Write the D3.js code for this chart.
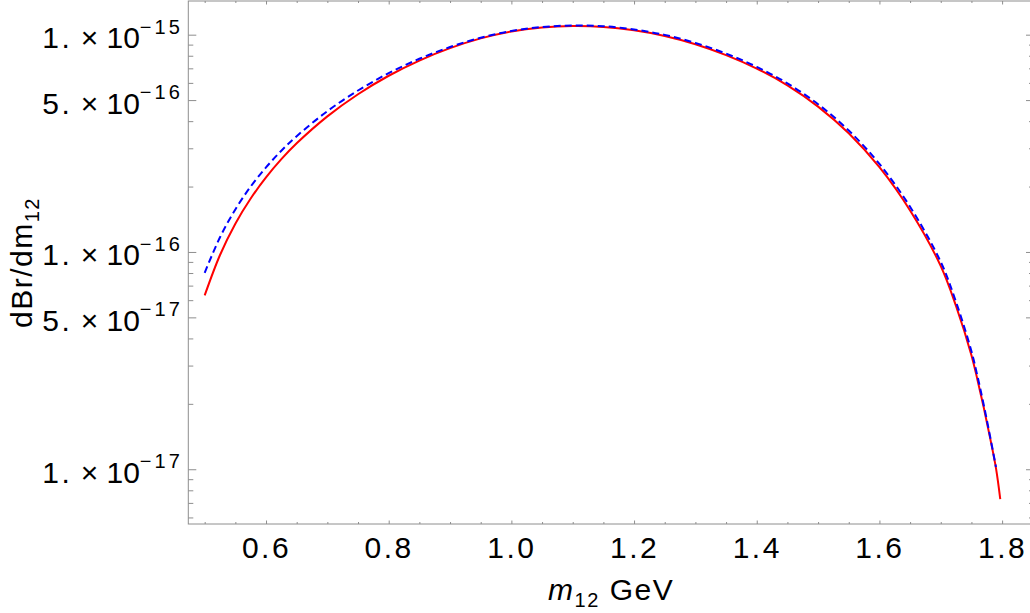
<!DOCTYPE html>
<html>
<head>
<meta charset="utf-8">
<script src="https://cdn.jsdelivr.net/npm/d3@7"></script>
<style>
  html, body { margin: 0; padding: 0; background: #fff; }
  svg { display: block; }
  text { font-family: "Liberation Sans", Arial, sans-serif; fill: #000; }
</style>
</head>
<body>
<svg id="chart" width="1030" height="613"></svg>
<script>
// ---- data ----
const m12 = [0.5, 0.525, 0.55, 0.575, 0.6, 0.625, 0.65, 0.7, 0.75, 0.8, 0.85, 0.9, 0.95, 1.0, 1.05, 1.1, 1.15, 1.2, 1.25, 1.3, 1.35, 1.4, 1.45, 1.5, 1.55, 1.6, 1.65, 1.7, 1.725, 1.75, 1.76, 1.77, 1.78, 1.79, 1.797];
const redSolid = [6.310e-17, 9.683e-17, 1.349e-16, 1.762e-16, 2.203e-16, 2.673e-16, 3.162e-16, 4.207e-16, 5.321e-16, 6.471e-16, 7.603e-16, 8.670e-16, 9.616e-16, 1.035e-15, 1.079e-15, 1.096e-15, 1.086e-15, 1.047e-15, 9.863e-16, 9.036e-16, 8.054e-16, 6.982e-16, 5.848e-16, 4.667e-16, 3.516e-16, 2.455e-16, 1.552e-16, 8.610e-17, 5.623e-17, 3.350e-17, 2.570e-17, 1.928e-17, 1.413e-17, 1.012e-17, 7.295e-18];
const m12Blue = [0.5, 0.525, 0.55, 0.575, 0.6, 0.625, 0.65, 0.7, 0.75, 0.8, 0.85, 0.9, 0.95, 1.0, 1.05, 1.1, 1.15, 1.2, 1.25, 1.3, 1.35, 1.4, 1.45, 1.5, 1.55, 1.6, 1.65, 1.7, 1.725, 1.75, 1.76, 1.77, 1.78, 1.79];
const blueDashed = [8.017e-17, 1.169e-16, 1.570e-16, 2.000e-16, 2.449e-16, 2.924e-16, 3.412e-16, 4.446e-16, 5.534e-16, 6.653e-16, 7.745e-16, 8.770e-16, 9.683e-16, 1.040e-15, 1.084e-15, 1.102e-15, 1.094e-15, 1.057e-15, 9.977e-16, 9.162e-16, 8.185e-16, 7.112e-16, 5.970e-16, 4.786e-16, 3.622e-16, 2.541e-16, 1.614e-16, 8.995e-17, 5.875e-17, 3.491e-17, 2.667e-17, 1.982e-17, 1.436e-17, 1.023e-17];
const xTicks = [0.6, 0.8, 1.0, 1.2, 1.4, 1.6, 1.8];
const xTickLabels = ["0.6", "0.8", "1.0", "1.2", "1.4", "1.6", "1.8"];
const xMinorTicks = [0.5, 0.55, 0.65, 0.7, 0.75, 0.85, 0.9, 0.95, 1.05, 1.1, 1.15, 1.25, 1.3, 1.35, 1.45, 1.5, 1.55, 1.65, 1.7, 1.75];
const yTicks = [1e-17, 5e-17, 1e-16, 5e-16, 1e-15];
const yTickMantissa = ["1.", "5.", "1.", "5.", "1."];
const yTickExponent = ["\u221217", "\u221217", "\u221216", "\u221216", "\u221215"];
const yMinorTicks = [6e-18, 7e-18, 8e-18, 9e-18, 2e-17, 3e-17, 4e-17, 6e-17, 7e-17, 8e-17, 9e-17, 2e-16, 3e-16, 4e-16, 6e-16, 7e-16, 8e-16, 9e-16];

// ---- layout ----
const L = 188.3, R = 1034, T = 1, B = 524;
const svg = d3.select("#chart");
svg.append("rect").attr("width", 1030).attr("height", 613).attr("fill", "#fff");

const x = d3.scaleLinear().domain([0.4733, 1.852]).range([L, R]);
const y = d3.scaleLog().domain([Math.pow(10, -17.252), Math.pow(10, -14.845)]).range([B, T]);

const frameColor = "#8e8e8e";

// curves
const line = d3.line().x(d => x(d[0])).y(d => y(d[1])).curve(d3.curveCatmullRom.alpha(0.5));
const plot = svg.append("g");
plot.append("path")
  .datum(m12.map((v, i) => [v, redSolid[i]]))
  .attr("d", line).attr("fill", "none").attr("stroke", "#ff0000").attr("stroke-width", 2);
plot.append("path")
  .datum(m12Blue.map((v, i) => [v, blueDashed[i]]))
  .attr("d", line).attr("fill", "none").attr("stroke", "#0000ff").attr("stroke-width", 2)
  .attr("stroke-dasharray", "7,4");

// frame
svg.append("rect").attr("x", L).attr("y", T).attr("width", R - L).attr("height", B - T)
  .attr("fill", "none").attr("stroke", frameColor).attr("stroke-width", 1);

function styleAxis(g) {
  g.select(".domain").remove();
  g.selectAll(".tick line").attr("stroke", frameColor);
}

// bottom axis (major with labels)
const bottom = svg.append("g").attr("transform", `translate(0,${B})`)
  .call(d3.axisBottom(x).tickValues(xTicks).tickSize(-3.5).tickPadding(13)
    .tickFormat((d, i) => xTickLabels[i]));
styleAxis(bottom);
bottom.selectAll("text").attr("font-size", 30).attr("letter-spacing", 2.5)
  .attr("font-family", "Liberation Sans, Arial, sans-serif").attr("fill", "#000");
svg.append("g").attr("transform", `translate(0,${B})`)
  .call(d3.axisBottom(x).tickValues(xMinorTicks).tickSize(-2).tickFormat(""))
  .call(styleAxis);
// top mirror
svg.append("g").attr("transform", `translate(0,${T})`)
  .call(d3.axisTop(x).tickValues(xTicks).tickSize(-3.5).tickFormat(""))
  .call(styleAxis);
svg.append("g").attr("transform", `translate(0,${T})`)
  .call(d3.axisTop(x).tickValues(xMinorTicks).tickSize(-2).tickFormat(""))
  .call(styleAxis);

// left axis
const left = svg.append("g").attr("transform", `translate(${L},0)`)
  .call(d3.axisLeft(y).tickValues(yTicks).tickSize(-8).tickPadding(5).tickFormat(""));
styleAxis(left);
left.selectAll(".tick text").each(function(d, i) {
  const t = d3.select(this);
  t.text(null).attr("x", -5.5).attr("dy", null).attr("y", 13)
    .attr("font-size", 30).attr("text-anchor", "end").attr("fill", "#000")
    .attr("font-family", "Liberation Sans, Arial, sans-serif");
  t.append("tspan").text(yTickMantissa[i]).attr("letter-spacing", 2.5);
  t.append("tspan").text(" \u00d7 10");
  t.append("tspan").text(yTickExponent[i]).attr("font-size", 20).attr("dy", -14.5).attr("letter-spacing", 3);
});
svg.append("g").attr("transform", `translate(${L},0)`)
  .call(d3.axisLeft(y).tickValues(yMinorTicks).tickSize(-5).tickFormat(""))
  .call(styleAxis);
// right mirror
svg.append("g").attr("transform", `translate(${R},0)`)
  .call(d3.axisRight(y).tickValues(yTicks).tickSize(-8).tickFormat(""))
  .call(styleAxis);
svg.append("g").attr("transform", `translate(${R},0)`)
  .call(d3.axisRight(y).tickValues(yMinorTicks).tickSize(-5).tickFormat(""))
  .call(styleAxis);

// axis titles
const xt = svg.append("text").attr("x", (L + R) / 2).attr("y", 600)
  .attr("text-anchor", "middle").attr("font-size", 30).attr("letter-spacing", 1.5);
xt.append("tspan").text("m").attr("font-style", "italic");
xt.append("tspan").text("12").attr("font-size", 20).attr("dy", 7);
xt.append("tspan").text(" GeV").attr("dy", -7);

const yt = svg.append("text").attr("transform", `translate(32,${(T + B) / 2}) rotate(-90)`)
  .attr("text-anchor", "middle").attr("font-size", 30).attr("letter-spacing", 1.5);
yt.append("tspan").text("dBr/dm");
yt.append("tspan").text("12").attr("font-size", 20).attr("dy", 7);
</script>
</body>
</html>
